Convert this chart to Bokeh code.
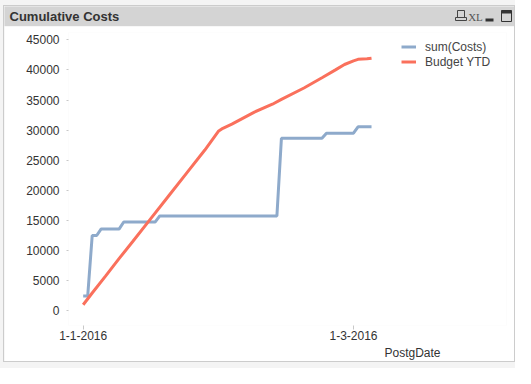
import pandas as pd
from bokeh.plotting import figure
from bokeh.layouts import column, row
from bokeh.models import (Legend, LegendItem, FixedTicker, Range1d, NumeralTickFormatter,
                          Title)
from bokeh.core.properties import value
from bokeh.embed import file_html
from bokeh.resources import INLINE

# ---- data ----
cost_dates = ["2016-01-01", "2016-01-02", "2016-01-03", "2016-01-04", "2016-01-05",
              "2016-01-09", "2016-01-10", "2016-01-17", "2016-01-18", "2016-02-13",
              "2016-02-14", "2016-02-23", "2016-02-24", "2016-03-01", "2016-03-02",
              "2016-03-05"]
cost_values = [2450, 2450, 12500, 12500, 13600, 13600, 14750, 14750, 15750, 15750,
               28650, 28650, 29500, 29500, 30550, 30550]

budget_dates = ["2016-01-01", "2016-01-03", "2016-01-06", "2016-01-09", "2016-01-12",
                "2016-01-16", "2016-01-20", "2016-01-24", "2016-01-28", "2016-01-31",
                "2016-02-01", "2016-02-03", "2016-02-08", "2016-02-12", "2016-02-14",
                "2016-02-19", "2016-02-23", "2016-02-26", "2016-02-28", "2016-03-01",
                "2016-03-02", "2016-03-04", "2016-03-05"]
budget_values = [1000, 2950, 5800, 8700, 11500, 15300, 19100, 22900, 26700, 29800,
                 30300, 31000, 33000, 34300, 35100, 37000, 38700, 40000, 40900, 41500,
                 41750, 41850, 41950]

x_tick_dates = ["2016-01-01", "2016-03-01"]
x_tick_labels = ["1-1-2016", "1-3-2016"]
y_ticks = [0, 5000, 10000, 15000, 20000, 25000, 30000, 35000, 40000, 45000]

series_names = ["sum(Costs)", "Budget YTD"]
series_colors = ["#8eaacb", "#fa705c"]

title_text = "Cumulative Costs"
x_axis_title = "PostgDate"

FONT = "Liberation Sans"
W = 510

# ---- header bar ----
header = figure(width=W, height=20, x_range=Range1d(0, W), y_range=Range1d(0, 20),
                x_axis_type=None, y_axis_type=None, output_backend="svg",
                toolbar_location=None, min_border=0, outline_line_color=None,
                background_fill_color="#d4d4d4", border_fill_color="#d4d4d4")
header.grid.visible = False
header.text(x=[5], y=[10], text=[title_text], text_font=value(FONT),
            text_font_style="bold", text_font_size="13px", text_color="#333333",
            text_baseline="middle", text_align="left")
header.text(x=[471], y=[10], text=["XL"], text_font=value("Liberation Sans Narrow"),
            text_font_size="11px", text_color="#555555",
            text_baseline="middle", text_align="center")
# icons: print, minimize, maximize
header.quad(left=[453], right=[460], bottom=[9], top=[16], fill_alpha=0,
            line_color="#444444", line_width=1)
header.quad(left=[451], right=[462], bottom=[6], top=[9], fill_color="#d4d4d4",
            line_color="#444444", line_width=1)
header.quad(left=[481], right=[489], bottom=[5], top=[8], fill_color="#333333",
            line_color=None)
header.quad(left=[497], right=[507], bottom=[5], top=[16], fill_alpha=0,
            line_color="#333333", line_width=1)
header.quad(left=[497], right=[507], bottom=[13], top=[16], fill_color="#333333",
            line_color=None)

# ---- main chart ----
cost_x = pd.to_datetime(cost_dates)
budget_x = pd.to_datetime(budget_dates)
tick_ms = [int(pd.Timestamp(d).value // 10**6) for d in x_tick_dates]

DAY = 86400000
x_start = tick_ms[0] - 3.26 * DAY
x_end = tick_ms[0] + 93.96 * DAY

p = figure(width=W, height=335, x_axis_type="datetime",
           output_backend="svg", toolbar_location=None,
           x_range=Range1d(x_start, x_end), y_range=Range1d(-2441, 46212),
           min_border_left=64, min_border_right=8, min_border_top=6,
           min_border_bottom=36, border_fill_color="white",
           background_fill_color="white", outline_line_color=None)
p.grid.visible = False

r_cost = p.line(cost_x, cost_values, line_color=series_colors[0], line_width=3)
r_budget = p.line(budget_x, budget_values, line_color=series_colors[1], line_width=3)

xa = p.xaxis[0]
xa.ticker = FixedTicker(ticks=tick_ms, minor_ticks=[])
xa.major_label_overrides = dict(zip(tick_ms, x_tick_labels))
xa.axis_line_color = None
xa.major_tick_line_color = "#c8c8c8"
xa.major_tick_out = 4
xa.major_tick_in = 0
xa.minor_tick_line_color = None
xa.major_label_standoff = 1
xa.major_label_text_font = FONT
xa.major_label_text_font_size = "12px"
xa.major_label_text_color = "#333333"

ya = p.yaxis[0]
ya.ticker = FixedTicker(ticks=y_ticks, minor_ticks=[])
ya.formatter = NumeralTickFormatter(format="0")
ya.axis_line_color = None
ya.major_tick_line_color = "#c8c8c8"
ya.major_tick_out = 2
ya.major_tick_in = 0
ya.minor_tick_line_color = None
ya.major_label_standoff = 7
ya.major_label_text_font = FONT
ya.major_label_text_font_size = "12px"
ya.major_label_text_color = "#333333"

# axis title, right-aligned under the x axis
p.add_layout(Title(text=x_axis_title, align="right", offset=66, standoff=3,
                   text_font=FONT, text_font_size="12px", text_font_style="normal",
                   text_color="#333333"), "below")

legend = Legend(items=[LegendItem(label=series_names[0], renderers=[r_cost]),
                       LegendItem(label=series_names[1], renderers=[r_budget])],
                location=(333, 256), glyph_width=15, glyph_height=15,
                label_height=15, label_standoff=9, padding=0, spacing=0, margin=0,
                border_line_color=None, background_fill_alpha=0,
                label_text_font=FONT, label_text_font_size="12px",
                label_text_color="#444444")
p.add_layout(legend)

inner = column(row(header), p, spacing=0, margin=(6, 1, 7, 4),
               styles={"outline": "1px solid #cccccc"})
page = column(inner, spacing=0, styles={"background-color": "#f4f4f4"})

open("out.html", "w").write(file_html(page, INLINE))
